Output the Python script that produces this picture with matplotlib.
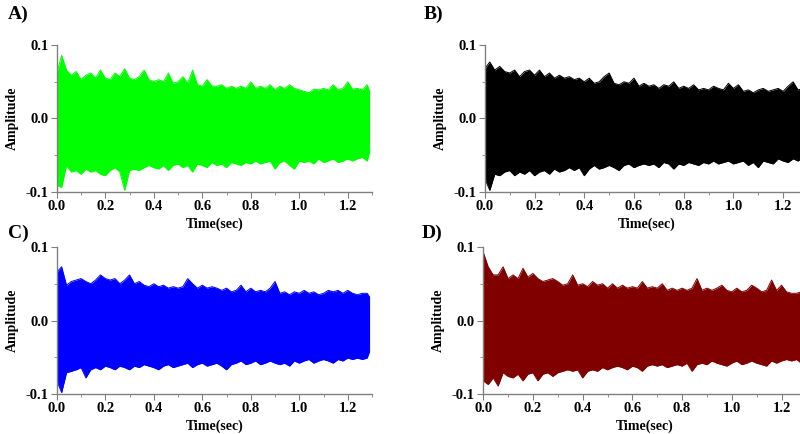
import numpy as np
import matplotlib.pyplot as plt
from matplotlib.ticker import MultipleLocator

plt.rcParams['font.family'] = ['Liberation Serif', 'DejaVu Serif']
plt.rcParams['font.weight'] = 'bold'

# temps des points d'enveloppe (toutes les 0.02 s, puis fin du signal)
t_env = np.append(np.arange(0, 1.29, 0.02), 1.29)

# enveloppes (haut / bas) pour chaque signal
upper_a = [0.062, 0.086, 0.066, 0.059, 0.064, 0.053, 0.059, 0.062, 0.055, 0.066,
           0.055, 0.053, 0.062, 0.057, 0.068, 0.055, 0.053, 0.057, 0.066, 0.053,
           0.050, 0.053, 0.050, 0.062, 0.048, 0.050, 0.057, 0.048, 0.066, 0.046,
           0.044, 0.053, 0.044, 0.044, 0.046, 0.041, 0.044, 0.041, 0.044, 0.041,
           0.050, 0.041, 0.044, 0.041, 0.046, 0.039, 0.044, 0.041, 0.046, 0.041,
           0.039, 0.037, 0.035, 0.040, 0.039, 0.041, 0.039, 0.046, 0.039, 0.041,
           0.050, 0.040, 0.041, 0.039, 0.046, 0.037]
lower_a = [-0.091, -0.094, -0.064, -0.073, -0.071, -0.076, -0.069, -0.073, -0.071, -0.076,
           -0.078, -0.071, -0.067, -0.073, -0.098, -0.071, -0.069, -0.071, -0.067, -0.064,
           -0.067, -0.069, -0.064, -0.071, -0.064, -0.062, -0.067, -0.064, -0.073, -0.062,
           -0.064, -0.067, -0.060, -0.064, -0.062, -0.067, -0.060, -0.062, -0.064, -0.060,
           -0.062, -0.058, -0.062, -0.060, -0.058, -0.069, -0.060, -0.058, -0.064, -0.069,
           -0.058, -0.060, -0.058, -0.062, -0.055, -0.060, -0.058, -0.055, -0.060, -0.058,
           -0.055, -0.058, -0.055, -0.053, -0.058, -0.046]

upper_b = [0.068, 0.077, 0.066, 0.071, 0.064, 0.062, 0.066, 0.057, 0.064, 0.066,
           0.059, 0.066, 0.057, 0.062, 0.055, 0.059, 0.055, 0.057, 0.053, 0.055,
           0.050, 0.055, 0.048, 0.050, 0.057, 0.062, 0.048, 0.046, 0.050, 0.048,
           0.055, 0.044, 0.048, 0.044, 0.046, 0.041, 0.046, 0.044, 0.050, 0.041,
           0.044, 0.041, 0.046, 0.039, 0.041, 0.039, 0.044, 0.041, 0.039, 0.048,
           0.041, 0.046, 0.037, 0.039, 0.035, 0.039, 0.041, 0.037, 0.039, 0.041,
           0.037, 0.044, 0.050, 0.039, 0.041, 0.035]
lower_b = [-0.082, -0.098, -0.076, -0.078, -0.073, -0.071, -0.078, -0.073, -0.076, -0.071,
           -0.078, -0.073, -0.071, -0.076, -0.069, -0.073, -0.071, -0.067, -0.071, -0.067,
           -0.078, -0.069, -0.064, -0.069, -0.067, -0.064, -0.067, -0.071, -0.064, -0.062,
           -0.067, -0.064, -0.062, -0.064, -0.062, -0.067, -0.060, -0.062, -0.069, -0.062,
           -0.064, -0.060, -0.062, -0.064, -0.060, -0.062, -0.058, -0.062, -0.060, -0.058,
           -0.062, -0.060, -0.058, -0.064, -0.060, -0.067, -0.058, -0.060, -0.062, -0.055,
           -0.058, -0.060, -0.055, -0.058, -0.053, -0.049]

upper_c = [0.066, 0.073, 0.048, 0.053, 0.055, 0.057, 0.053, 0.050, 0.055, 0.062,
           0.057, 0.055, 0.057, 0.050, 0.055, 0.062, 0.050, 0.053, 0.048, 0.046,
           0.050, 0.046, 0.048, 0.044, 0.046, 0.044, 0.046, 0.057, 0.050, 0.044,
           0.048, 0.044, 0.046, 0.044, 0.041, 0.044, 0.039, 0.041, 0.048, 0.039,
           0.044, 0.039, 0.041, 0.039, 0.044, 0.053, 0.037, 0.039, 0.035, 0.039,
           0.037, 0.041, 0.037, 0.039, 0.035, 0.037, 0.041, 0.039, 0.041, 0.037,
           0.041, 0.037, 0.035, 0.037, 0.037, 0.032]
lower_c = [-0.082, -0.098, -0.071, -0.069, -0.067, -0.064, -0.078, -0.067, -0.064, -0.067,
           -0.062, -0.064, -0.067, -0.062, -0.064, -0.067, -0.062, -0.064, -0.060, -0.062,
           -0.064, -0.067, -0.062, -0.060, -0.064, -0.062, -0.060, -0.058, -0.064, -0.060,
           -0.058, -0.062, -0.060, -0.058, -0.062, -0.067, -0.060, -0.058, -0.055, -0.060,
           -0.058, -0.055, -0.060, -0.058, -0.055, -0.058, -0.060, -0.058, -0.062, -0.055,
           -0.058, -0.055, -0.053, -0.058, -0.055, -0.053, -0.055, -0.058, -0.053, -0.055,
           -0.051, -0.053, -0.051, -0.053, -0.051, -0.042]

upper_d = [0.093, 0.073, 0.062, 0.062, 0.073, 0.057, 0.062, 0.057, 0.071, 0.059,
           0.064, 0.057, 0.053, 0.055, 0.057, 0.053, 0.048, 0.050, 0.062, 0.048,
           0.050, 0.046, 0.053, 0.048, 0.050, 0.044, 0.050, 0.044, 0.048, 0.044,
           0.046, 0.044, 0.053, 0.044, 0.046, 0.044, 0.050, 0.041, 0.044, 0.041,
           0.044, 0.041, 0.044, 0.057, 0.041, 0.044, 0.041, 0.044, 0.048, 0.041,
           0.039, 0.044, 0.039, 0.041, 0.048, 0.044, 0.039, 0.041, 0.055, 0.041,
           0.048, 0.039, 0.037, 0.037, 0.039, 0.035]
lower_d = [-0.082, -0.087, -0.078, -0.089, -0.071, -0.076, -0.078, -0.073, -0.082, -0.073,
           -0.071, -0.082, -0.073, -0.071, -0.076, -0.071, -0.069, -0.067, -0.069, -0.067,
           -0.078, -0.069, -0.067, -0.069, -0.064, -0.067, -0.064, -0.062, -0.064, -0.067,
           -0.062, -0.064, -0.069, -0.062, -0.060, -0.062, -0.060, -0.064, -0.062, -0.060,
           -0.062, -0.058, -0.069, -0.060, -0.058, -0.060, -0.055, -0.058, -0.060, -0.062,
           -0.058, -0.055, -0.060, -0.058, -0.055, -0.058, -0.060, -0.062, -0.055, -0.058,
           -0.055, -0.053, -0.055, -0.053, -0.058, -0.062]

# lettre, enveloppes, couleur, position des axes, position de la lettre
panels = [
    ("A)", upper_a, lower_a, "#00ff00", [0.071, 0.558, 0.394, 0.338], (0.010, 0.968)),
    ("B)", upper_b, lower_b, "#000000", [0.606, 0.558, 0.404, 0.338], (0.530, 0.968)),
    ("C)", upper_c, lower_c, "#0000ff", [0.071, 0.092, 0.394, 0.339], (0.010, 0.462)),
    ("D)", upper_d, lower_d, "#800000", [0.604, 0.092, 0.404, 0.339], (0.527, 0.462)),
]

fig = plt.figure(figsize=(8, 4.34), dpi=100)

for lettre, up, lo, coul, pos, pl in panels:
    ax = fig.add_axes(pos)
    ax.fill_between(t_env, lo, up, color=coul, lw=0)
    ax.plot(t_env, up, color=coul, lw=0.7)
    ax.plot(t_env, lo, color=coul, lw=0.7)
    ax.set_xlim(0, 1.30)
    ax.set_ylim(-0.1, 0.1)
    ax.set_xticks([0, 0.2, 0.4, 0.6, 0.8, 1.0, 1.2])
    ax.set_yticks([-0.1, 0.0, 0.1])
    ax.xaxis.set_minor_locator(MultipleLocator(0.1))
    ax.yaxis.set_minor_locator(MultipleLocator(0.05))
    ax.set_xticklabels(["0.0", "0.2", "0.4", "0.6", "0.8", "1.0", "1.2"])
    ax.set_yticklabels(["-0.1", "0.0", "0.1"])
    for s in ["top", "right"]:
        ax.spines[s].set_visible(False)
    for s in ["left", "bottom"]:
        ax.spines[s].set_color("#808080")
        ax.spines[s].set_linewidth(1.0)
    ax.tick_params(which="both", direction="out", color="#808080", labelsize=10.5, pad=2)
    ax.tick_params(which="major", length=4)
    ax.tick_params(which="minor", length=2.5)
    ax.set_xlabel("Time(sec)", fontsize=10, fontweight="bold", labelpad=3)
    ax.set_ylabel("Amplitude", fontsize=10, fontweight="bold", labelpad=5)
    fig.text(pl[0], pl[1], lettre, fontsize=14, fontweight="bold",
             ha="left", va="center")

plt.savefig("out.png", dpi=100)
